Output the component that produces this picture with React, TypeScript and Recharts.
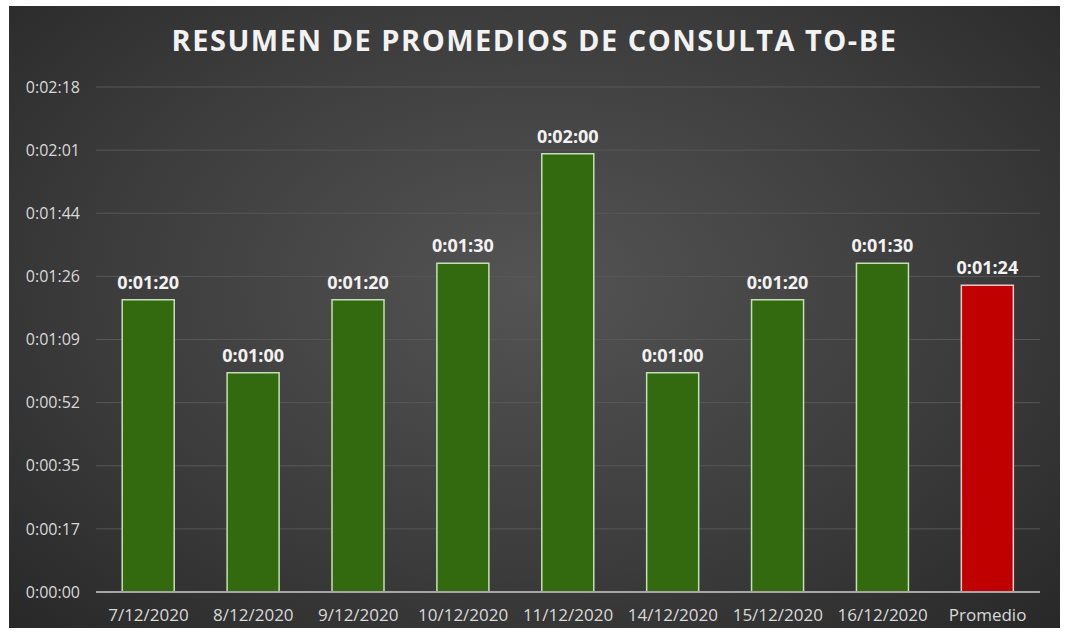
import { Bar, BarChart, CartesianGrid, Cell, LabelList, XAxis, YAxis } from 'recharts';

// dates on the x axis, plus the average bar
const categories = [
  '7/12/2020',
  '8/12/2020',
  '9/12/2020',
  '10/12/2020',
  '11/12/2020',
  '14/12/2020',
  '15/12/2020',
  '16/12/2020',
  'Promedio',
];

// average query time, in seconds
const seconds = [80, 60, 80, 90, 120, 60, 80, 90, 84];

// Excel-style time ticks (0.0002 day steps)
const yTicks = [0, 17.28, 34.56, 51.84, 69.12, 86.4, 103.68, 120.96, 138.24];

const COL = {
  green: '#33690f',
  greenEdge: '#c5e0b4',
  red: '#c00000',
  redEdge: '#f4c7c7',
  tick: '#d9d9d9',
  label: '#f2f2f2',
  grid: '#575757',
  axis: '#a6a6a6',
};

const FONT = '"Open Sans", "Noto Sans", sans-serif';

const fmtTime = (v: number | string) => {
  const s = Math.round(Number(v));
  const h = Math.floor(s / 3600);
  const m = Math.floor((s % 3600) / 60);
  const sec = s % 60;
  return `${h}:${String(m).padStart(2, '0')}:${String(sec).padStart(2, '0')}`;
};

const data = categories.map((name, i) => ({ name, value: seconds[i] }));

export default function App() {
  return (
    <div
      style={{
        position: 'absolute',
        left: 9,
        top: 6,
        width: 1051,
        height: 622,
        background: 'radial-gradient(ellipse at 50% 45%, #545454 0%, #3b3b3b 60%, #282828 100%)',
        fontFamily: FONT,
      }}
    >
      <div
        style={{
          position: 'absolute',
          top: 14,
          width: '100%',
          textAlign: 'center',
          color: '#f2f2f2',
          fontWeight: 700,
          fontSize: 29,
          letterSpacing: 1.5,
        }}
      >
        RESUMEN DE PROMEDIOS DE CONSULTA TO-BE
      </div>
      <BarChart
        width={1051}
        height={622}
        data={data}
        margin={{ top: 81, right: 20, bottom: 6, left: 7 }}
        barCategoryGap='25%'
      >
        <CartesianGrid vertical={false} stroke={COL.grid} />
        <XAxis
          dataKey='name'
          interval={0}
          tickLine={false}
          stroke={COL.axis}
          strokeWidth={2}
          tickMargin={11}
          height={30}
          tick={{ fill: COL.tick, fontSize: 17, fontFamily: FONT }}
        />
        <YAxis
          width={80}
          domain={[0, 138.24]}
          ticks={yTicks}
          tickFormatter={fmtTime}
          axisLine={false}
          tickLine={false}
          tickMargin={10}
          tick={{ fill: COL.tick, fontSize: 16, fontFamily: FONT }}
        />
        <Bar dataKey='value' isAnimationActive={false} strokeWidth={1.5}>
          {data.map((d) => (
            <Cell
              key={d.name}
              fill={d.name === 'Promedio' ? COL.red : COL.green}
              stroke={d.name === 'Promedio' ? COL.redEdge : COL.greenEdge}
            />
          ))}
          <LabelList
            dataKey='value'
            position='top'
            offset={11}
            formatter={fmtTime}
            fill={COL.label}
            fontSize={18}
            fontWeight={700}
            fontFamily={FONT}
          />
        </Bar>
      </BarChart>
    </div>
  );
}
